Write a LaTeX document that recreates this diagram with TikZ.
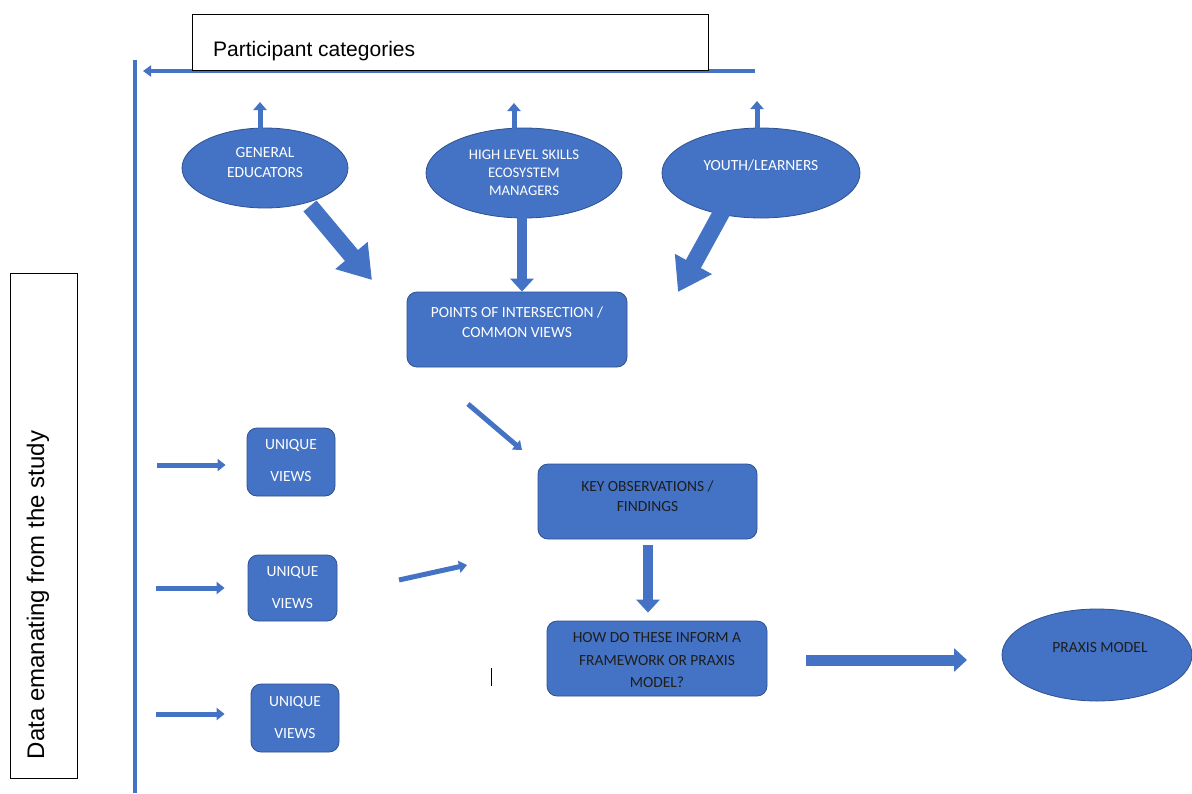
\documentclass[tikz,border=0pt]{standalone}
\usepackage{fontspec}
\setmainfont{Liberation Sans}
\newfontfamily\calib{Carlito}
\usetikzlibrary{arrows.meta,shapes.geometric,calc}
\definecolor{boxblue}{HTML}{4472C4}
\definecolor{edgeblue}{HTML}{2F528F}
\definecolor{darktxt}{HTML}{1E1E1E}
\begin{document}
\begin{tikzpicture}[x=1pt,y=-1pt,
  oval/.style={ellipse,fill=boxblue,draw=edgeblue,line width=0.8pt,inner sep=0pt},
  rbox/.style={rectangle,rounded corners=10pt,fill=boxblue,draw=edgeblue,line width=0.8pt,inner sep=0pt},
  wtxt/.style={text=white,font=\calib\fontsize{15.5}{20}\selectfont,align=center,inner sep=0pt},
  dtxt/.style={text=darktxt,font=\calib\fontsize{15.5}{20}\selectfont,align=center,inner sep=0pt},
  frame/.style={rectangle,draw=black,line width=1pt,fill=white,inner sep=0pt},
  thinarrow/.style={draw=boxblue,line width=5pt,-{Triangle[width=12pt,length=8pt]}},
  uparrow/.style={draw=boxblue,line width=5pt,-{Triangle[width=13pt,length=8pt]}},
  midarrow/.style={draw=boxblue,line width=10pt,-{Triangle[width=23pt,length=13pt]}},
  bigarrow/.style={draw=boxblue,line width=17pt,-{Triangle[width=40pt,length=32pt]}},
  rail/.style={draw=boxblue,line width=4pt}
]
\useasboundingbox (0,0) rectangle (1192,793);
\fill[white] (0,0) rectangle (1192,793);

% left rail and top rail with arrow
\coordinate (railtop) at (135,60);
\coordinate (railbot) at (135,793);
\draw[rail] (railtop) -- (railbot);
\coordinate (topstart) at (755,71);
\coordinate (topend) at (143,71);
\draw[rail,-{Triangle[width=11pt,length=8pt]}] (topstart) -- (topend);

% header and side frames
\node[frame,minimum width=516pt,minimum height=56pt] (hdr) at (450,42) {};
\node[anchor=base west,inner sep=0pt,font=\fontsize{21}{25}\selectfont] (hdrtxt) at (213,56) {Participant categories};
\node[frame,minimum width=67pt,minimum height=505pt] (side) at (43.5,525.5) {};
\node[rotate=90,anchor=base,inner sep=0pt,font=\fontsize{24}{28}\selectfont] (sidetxt) at (44,595) {Data emanating from the study};

% participant categories
\node[oval,minimum width=166pt,minimum height=80pt] (ge) at (265,168) {};
\node[wtxt] (getxt) at (265,163) {GENERAL\\EDUCATORS};
\node[oval,minimum width=196pt,minimum height=90pt] (hls) at (524,173) {};
\node[wtxt,font=\calib\fontsize{14.7}{18}\selectfont] (hlstxt) at (524,173) {HIGH LEVEL SKILLS\\ECOSYSTEM\\MANAGERS};
\node[oval,minimum width=198pt,minimum height=90pt] (yl) at (761,173) {};
\node[wtxt] (yltxt) at (761,165) {YOUTH/LEARNERS};

% arrows up to the category rail
\coordinate (geup) at (260,102);
\coordinate (hlsup) at (514,103);
\coordinate (ylup) at (757,101);
\draw[uparrow] ($(ge.north)+(-5,12)$) -- (geup);
\draw[uparrow] ($(hls.north)+(-10,12)$) -- (hlsup);
\draw[uparrow] ($(yl.north)+(-4,12)$) -- (ylup);

% common views
\node[rbox,minimum width=220pt,minimum height=75pt] (pts) at (517,329.5) {};
\node[wtxt] (ptstxt) at (517,322) {POINTS OF INTERSECTION /\\COMMON VIEWS};

\coordinate (gein) at (372,280);
\coordinate (ylin) at (678,292);
\draw[bigarrow] (310,206) -- (gein);
\draw[midarrow] (hls.south) ++(-2,-6) -- (pts.north -| 522,0);
\draw[bigarrow] (723,210) -- (ylin);

% key observations
\node[rbox,minimum width=219pt,minimum height=75pt] (key) at (647.5,501.5) {};
\node[dtxt] (keytxt) at (647.5,496) {KEY OBSERVATIONS /\\FINDINGS};
\coordinate (ptsa) at (468,404);
\coordinate (keya) at (522,450);
\draw[thinarrow] (ptsa) -- (keya);

% framework question
\node[rbox,minimum width=220pt,minimum height=75pt] (how) at (657,658.5) {};
\node[dtxt,font=\calib\fontsize{15.5}{22.5}\selectfont] (howtxt) at (657,660.5) {HOW DO THESE INFORM A\\FRAMEWORK OR PRAXIS\\MODEL?};
\draw[midarrow] ($(key.south)+(0.5,6)$) -- ($(how.north)+(-9,-8)$);

% praxis model
\node[oval,minimum width=190pt,minimum height=92pt] (praxis) at (1097,655) {};
\node[dtxt] (praxistxt) at (1100,648) {PRAXIS MODEL};
\coordinate (howout) at (806,660);
\coordinate (praxisin) at (967,660);
\draw[draw=boxblue,line width=11pt,-{Triangle[width=23pt,length=13pt]}] (howout) -- (praxisin);

% unique views
\node[rbox,minimum width=88pt,minimum height=68pt] (uva) at (291,462) {};
\node[wtxt,font=\calib\fontsize{15.5}{32}\selectfont] (uvatxt) at (291,461) {UNIQUE\\VIEWS};
\node[rbox,minimum width=89pt,minimum height=66pt] (uvb) at (292.5,588) {};
\node[wtxt,font=\calib\fontsize{15.5}{32}\selectfont] (uvbtxt) at (292.5,588) {UNIQUE\\VIEWS};
\node[rbox,minimum width=88pt,minimum height=68pt] (uvc) at (295,718) {};
\node[wtxt,font=\calib\fontsize{15.5}{32}\selectfont] (uvctxt) at (295,718) {UNIQUE\\VIEWS};

\coordinate (uvaa) at (157,465);
\coordinate (uvba) at (156,588);
\coordinate (uvca) at (156,714);
\draw[thinarrow] (uvaa) -- ($(uva.west |- uvaa)+(-21,0)$);
\draw[thinarrow] (uvba) -- ($(uvb.west |- uvba)+(-23,0)$);
\draw[thinarrow] (uvca) -- ($(uvc.west |- uvca)+(-26,0)$);

\coordinate (uvbout) at (399,580);
\coordinate (uvbto) at (467,565);
\draw[thinarrow] (uvbout) -- (uvbto);

% stray text cursor mark
\coordinate (cura) at (491,668);
\coordinate (curb) at (491,686);
\draw[black,line width=1pt] (cura) -- (curb);
\end{tikzpicture}
\end{document}
